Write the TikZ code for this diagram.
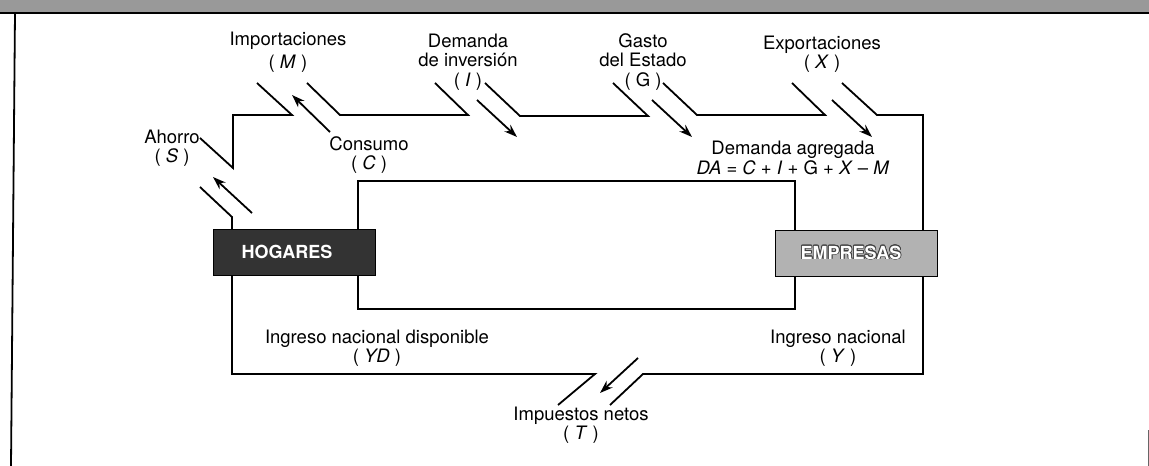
\documentclass[tikz,border=0pt]{standalone}
\usepackage{fontspec}
\setmainfont{TeX Gyre Heros}
\usepackage{contour}
\usetikzlibrary{arrows.meta}
\contourlength{0.7pt}
\contournumber{16}
\begin{document}
\begin{tikzpicture}[x=1pt,y=-1pt,
  flow/.style={line width=1.8pt},
  arr/.style={line width=1.8pt,-{Stealth[length=13pt,width=9pt]}},
  lbl/.style={font=\fontsize{18.5}{19.5}\selectfont, align=center, inner sep=0pt},
  agent/.style={draw=black, line width=0.8pt, minimum width=162pt, minimum height=46pt, inner sep=0pt,
    font=\fontsize{18}{20}\selectfont\bfseries}]
\useasboundingbox (0,0) rectangle (1149,466);
% frame
\fill[black!40] (0,0) rectangle (1149,13);
\draw[line width=2pt] (0,13) -- (1149,13);
\draw[line width=1.8pt] (15,13) -- (11,466);
\draw[line width=0.8pt, black!60] (1148,430) -- (1148,466);

% agents
\node[agent, fill=black!80, text=white] (hog) at (294,252) {HOGARES\hspace*{14pt}};
\node[agent, fill=black!30, text=white] (emp) at (856,253) {\contour{black!75}{EMPRESAS}\hspace*{10pt}};

% labels
\node[lbl] (imp) at (288,52) {Importaciones\\[3pt]( \textit{M} )};
\node[lbl] (aho) at (172,148) {Ahorro\\( \textit{S} )};
\node[lbl] (con) at (369,155) {Consumo\\( \textit{C} )};
\node[lbl] (inv) at (468,62) {Demanda\\de inversión\\( \textit{I} )};
\node[lbl] (gas) at (643,62) {Gasto\\del Estado\\( G )};
\node[lbl] (exp) at (822,54) {Exportaciones\\( \textit{X} )};
\node[lbl] (dag) at (793,158) {Demanda agregada\\[1pt]\textit{DA} = \textit{C} + \textit{I} + G + \textit{X} -- \textit{M}};
\node[lbl] (ynd) at (377,348) {Ingreso nacional disponible\\( \textit{YD} )};
\node[lbl] (yn) at (838,348) {Ingreso nacional\\( \textit{Y} )};
\node[lbl] (tax) at (581,425) {Impuestos netos\\( \textit{T} )};

% coordinates of the circuit
\coordinate (h1) at (232,229);
\coordinate (h2) at (358,229);
\coordinate (h3) at (232,275);
\coordinate (h4) at (358,275);
\coordinate (e1) at (795,230);
\coordinate (e2) at (923,230);
\coordinate (e3) at (795,276);
\coordinate (e4) at (923,276);

% upper outer flow with leakages and injections
\draw[flow] (257,83) -- (292,115) -- (233,115) -- (233,168) -- (200,138);
\draw[flow] (200,187) -- (232,217) -- (h1);
\draw[arr] (252,213) -- (213,177);
\draw[arr] (330,132) -- (292,95);
\draw[flow] (307,83) -- (340,115) -- (468,115) -- (435,83);
\draw[arr] (477,100) -- (517,137);
\draw[flow] (485,83) -- (520,116) -- (648,116) -- (613,83);
\draw[arr] (652,100) -- (692,137);
\draw[flow] (663,83) -- (697,115) -- (825,115) -- (792,83);
\draw[arr] (832,100) -- (872,137);
\draw[flow] (842,83) -- (877,115) -- (923,115) -- (e2);

% inner loops
\draw[flow] (e1) -- (795,181) -- (358,181) -- (h2);
\draw[flow] (h4) -- (358,309) -- (795,309) -- (e3);

% lower outer flow with taxes
\draw[flow] (e4) -- (923,374) -- (643,374) -- (610,405);
\draw[flow] (h3) -- (232,374) -- (595,374) -- (558,405);
\draw[arr] (638,358) -- (600,393);
\end{tikzpicture}
\end{document}
